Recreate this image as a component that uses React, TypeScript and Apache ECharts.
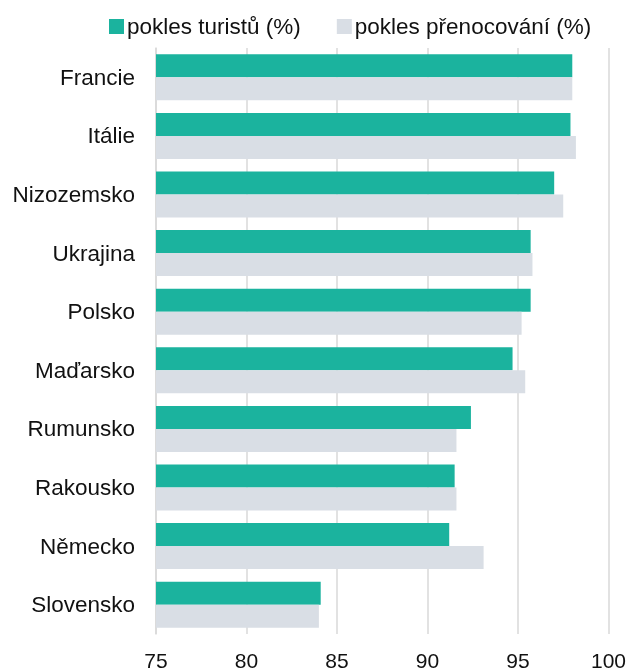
import React, { useEffect, useRef } from "react";
import * as echarts from "echarts";

const categories = ["Francie", "Itálie", "Nizozemsko", "Ukrajina", "Polsko", "Maďarsko", "Rumunsko", "Rakousko", "Německo", "Slovensko"];
const tourists = [98.0, 97.9, 97.0, 95.7, 95.7, 94.7, 92.4, 91.5, 91.2, 84.1];
const nights = [98.0, 98.2, 97.5, 95.8, 95.2, 95.4, 91.6, 91.6, 93.1, 84.0];
const seriesNames = ["pokles turistů (%)", "pokles přenocování (%)"];

export default function App() {
  const ref = useRef<HTMLDivElement>(null);
  useEffect(() => {
    if (!ref.current) return;
    const chart = echarts.init(ref.current, null, { renderer: "svg" });
    const font = "'Liberation Sans', Arial, sans-serif";
    chart.setOption({
      animation: false,
      textStyle: { fontFamily: font },
      legend: {
        top: 10,
        left: 104,
        itemWidth: 15,
        itemHeight: 15,
        itemGap: 36,
        icon: "rect",
        textStyle: { fontSize: 22.5, color: "#111", fontFamily: font, padding: [0, 0, 0, -2] },
        data: seriesNames,
      },
      grid: { left: 156, right: 16, top: 48, bottom: 37 },
      xAxis: {
        type: "value",
        min: 75,
        max: 100,
        interval: 5,
        axisLine: { show: false },
        axisTick: { show: false },
        splitLine: { show: true, lineStyle: { color: "#d9d9d9", width: 1.5 } },
        axisLabel: { fontSize: 21, color: "#111", margin: 16, fontFamily: font },
      },
      yAxis: {
        type: "category",
        inverse: true,
        data: categories,
        axisLine: { show: true, lineStyle: { color: "#d9d9d9", width: 1.5 } },
        axisTick: { show: false },
        axisLabel: { fontSize: 22.5, color: "#111", margin: 21, fontFamily: font },
      },
      series: [
        {
          name: seriesNames[0],
          type: "bar",
          data: tourists,
          barWidth: 23,
          barGap: "0%",
          itemStyle: { color: "#1bb39e" },
        },
        {
          name: seriesNames[1],
          type: "bar",
          data: nights,
          barWidth: 23,
          barGap: "0%",
          itemStyle: { color: "#d9dee5" },
        },
      ],
    });
    return () => chart.dispose();
  }, []);
  return <div ref={ref} style={{ position: "fixed", left: 0, top: 0, width: 629, height: 671 }} />;
}
